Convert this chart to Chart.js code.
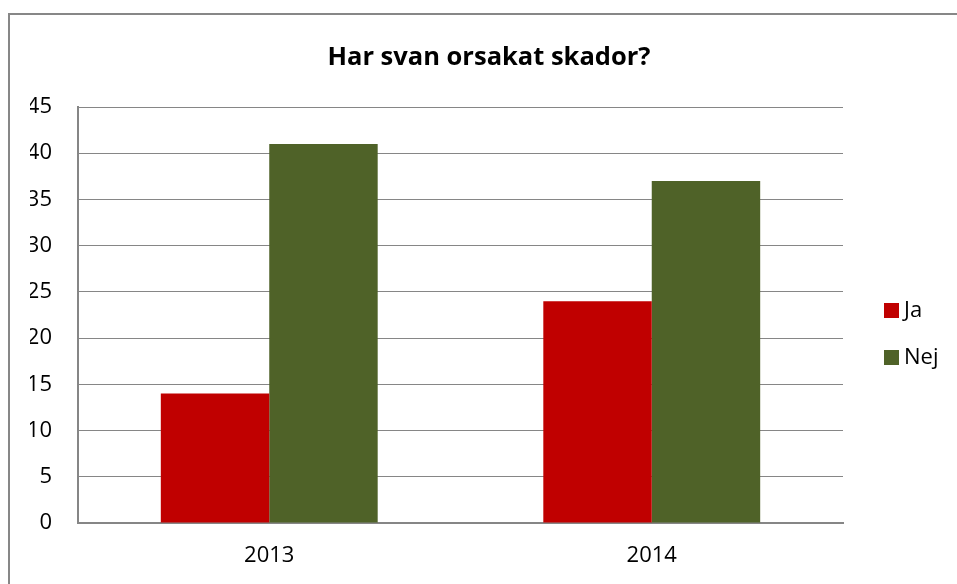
<!DOCTYPE html>
<html>
<head>
<meta charset="utf-8">
<script src="https://cdn.jsdelivr.net/npm/chart.js@4/dist/chart.umd.min.js"></script>
<style>
  html, body { margin: 0; padding: 0; background: #fff; }
  #wrap { position: relative; width: 957px; height: 584px; overflow: hidden; }
  #frame { position: absolute; left: 8px; top: 13px; width: 1000px; height: 700px;
           border-left: 2px solid #878787; border-top: 2px solid #878787; }
  canvas { position: absolute; left: 0; top: 0; }
</style>
</head>
<body>
<div id="wrap">
  <div id="frame"></div>
  <canvas id="chart" width="957" height="584"></canvas>
</div>
<script>
// data
const years = ['2013', '2014'];
const seriesNames = ['Ja', 'Nej'];
const jaValues = [14, 24];
const nejValues = [41, 37];
const colors = ['#C00000', '#4F6228'];
const chartTitle = 'Har svan orsakat skador?';

const FONT = "'Open Sans', 'Liberation Sans', sans-serif";

// titel + legend ritas själv, så de hamnar där Excel har dem
const extras = {
  id: 'extras',
  afterDraw(chart) {
    const ctx = chart.ctx;
    ctx.save();
    ctx.textBaseline = 'middle';
    ctx.fillStyle = '#000';
    ctx.font = 'bold 25.5px ' + FONT;
    ctx.textAlign = 'center';
    ctx.fillText(chartTitle, 489, 58);

    ctx.font = '22px ' + FONT;
    ctx.textAlign = 'left';
    chart.data.datasets.forEach((ds, i) => {
      const y = 310 + i * 47;
      ctx.fillStyle = ds.backgroundColor;
      ctx.fillRect(884, y - 7, 15, 15);
      ctx.fillStyle = '#000';
      ctx.fillText(ds.label, 904, y + 1);
    });
    ctx.restore();
  }
};

new Chart(document.getElementById('chart'), {
  type: 'bar',
  data: {
    labels: years,
    datasets: [{
      label: seriesNames[0],
      data: jaValues,
      backgroundColor: colors[0],
      categoryPercentage: 0.567,
      barPercentage: 1.0
    }, {
      label: seriesNames[1],
      data: nejValues,
      backgroundColor: colors[1],
      categoryPercentage: 0.567,
      barPercentage: 1.0
    }]
  },
  options: {
    responsive: false,
    animation: false,
    layout: {
      padding: { left: 30, right: 114, top: 107, bottom: 0 }
    },
    plugins: {
      legend: { display: false },
      tooltip: { enabled: false },
      title: { display: false }
    },
    scales: {
      x: {
        grid: { display: false, drawTicks: false },
        border: { color: '#868686', width: 2 },
        ticks: {
          color: '#000',
          font: { family: FONT, size: 22 },
          padding: 20
        },
        afterFit(scale) { scale.height = 61; }
      },
      y: {
        min: 0,
        max: 45,
        ticks: {
          stepSize: 5,
          color: '#000',
          font: { family: FONT, size: 22 },
          padding: 26
        },
        grid: { color: '#868686', lineWidth: 1, drawTicks: false },
        border: { color: '#868686', width: 2 },
        afterFit(scale) { scale.width = 48; }
      }
    }
  },
  plugins: [extras]
});
</script>
</body>
</html>
